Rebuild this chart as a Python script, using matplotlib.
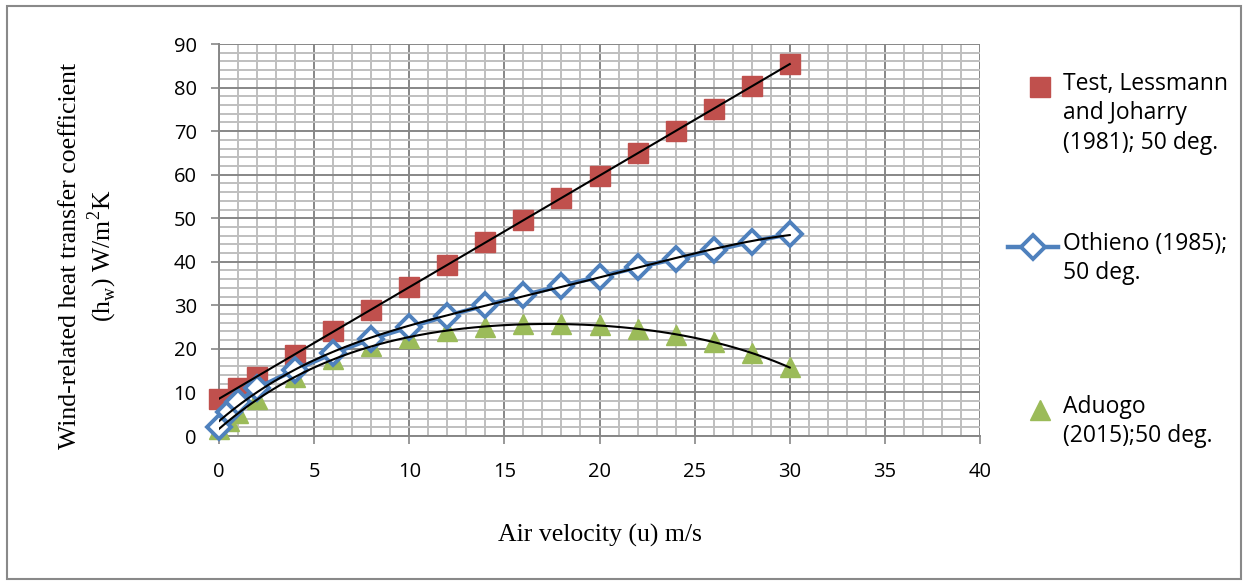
import numpy as np
import matplotlib
matplotlib.use("Agg")
import matplotlib.pyplot as plt
from matplotlib.lines import Line2D
from matplotlib.patches import Rectangle
from matplotlib.ticker import MultipleLocator

# Test, Lessmann and Joharry (1981)
u_test = [0, 1, 2, 4, 6, 8, 10, 12, 14, 16, 18, 20, 22, 24, 26, 28, 30]
h_test = [8.6, 11.1, 13.6, 18.7, 24.0, 29.0, 34.3, 39.3, 44.5, 49.5, 54.6, 59.8, 64.9, 70.0, 75.1, 80.3, 85.4]

# Othieno (1985)
u_oth = [0, 0.5, 1, 2, 4, 6, 8, 10, 12, 14, 16, 18, 20, 22, 24, 26, 28, 30]
h_oth = [2.0, 5.5, 7.8, 11.0, 15.2, 19.0, 22.3, 25.0, 27.6, 30.0, 32.3, 34.5, 36.6, 38.7, 40.7, 42.6, 44.6, 46.4]

# Aduogo (2015)
u_adu = [0, 0.5, 1, 2, 4, 6, 8, 10, 12, 14, 16, 18, 20, 22, 24, 26, 28, 30]
h_adu = [1.5, 3.5, 5.2, 8.5, 13.6, 17.6, 20.6, 22.6, 24.1, 25.1, 25.7, 25.8, 25.5, 24.6, 23.3, 21.5, 19.0, 15.8]

labels = ["Test, Lessmann\nand Joharry\n(1981); 50 deg.",
          "Othieno (1985);\n50 deg.",
          "Aduogo\n(2015);50 deg."]

RED = "#C0504D"
BLUE = "#4F81BD"
GREEN = "#9BBB59"
GRID_MAJ = "#878787"
GRID_MIN = "#BFBFBF"

plt.rcParams["font.family"] = "Open Sans"

fig = plt.figure(figsize=(12.44, 5.82), dpi=100)
ax = fig.add_axes([219/1244, 1-436/582, (980-219)/1244, (436-44)/582])

ax.set_xlim(0, 40)
ax.set_ylim(0, 90)
ax.xaxis.set_major_locator(MultipleLocator(5))
ax.xaxis.set_minor_locator(MultipleLocator(1))
ax.yaxis.set_major_locator(MultipleLocator(10))
ax.yaxis.set_minor_locator(MultipleLocator(2))
ax.grid(which="minor", color=GRID_MIN, lw=1.4)
ax.grid(which="major", color=GRID_MAJ, lw=1.4)
ax.set_axisbelow(True)
for s in ["top", "right"]:
    ax.spines[s].set_visible(False)
for s in ["left", "bottom"]:
    ax.spines[s].set_color(GRID_MAJ)
    ax.spines[s].set_linewidth(1.4)
ax.tick_params(which="major", direction="out", length=6, width=1.2, color=GRID_MAJ,
               labelsize=14.5)
ax.tick_params(axis="x", which="major", pad=13)
ax.tick_params(axis="y", which="major", pad=10)
ax.tick_params(which="minor", length=0)

# data
ax.plot(u_test, h_test, "s", color=RED, ms=14, mec=RED, zorder=3, clip_on=False)
ax.plot(u_oth, h_oth, "-D", color=BLUE, lw=3.2, ms=12, mfc="white", mec=BLUE, mew=2.8,
        zorder=4, clip_on=False)
ax.plot(u_adu, h_adu, "^", color=GREEN, ms=15, mec=GREEN, zorder=3, clip_on=False)

# trendlines
xs = np.linspace(0, 30, 300)
ax.plot(xs, np.polyval(np.polyfit(u_test, h_test, 1), xs), color="black", lw=1.5, zorder=5)
ax.plot(xs, np.polyval(np.polyfit(u_oth, h_oth, 4), xs), color="black", lw=1.5, zorder=5)
ax.plot(xs, np.polyval(np.polyfit(u_adu, h_adu, 4), xs), color="black", lw=1.5, zorder=5)

ax.set_xlabel("Air velocity (u) m/s", fontfamily="Liberation Serif", fontsize=18.5, labelpad=30)
fig.text(89/1244, 1-256/582, "Wind-related heat transfer coefficient\n(h$_\\mathregular{w}$) W/m$^\\mathregular{2}$K",
         rotation=90, ha="center", va="center", fontfamily="Liberation Serif", fontsize=18.5,
         linespacing=1.2)

# legend, drawn by hand to mimic the layout
def fx(px):
    return px / 1244
def fy(py):
    return 1 - py / 582

fig.add_artist(Line2D([fx(1040)], [fy(87)], marker="s", ms=14, color=RED, ls="none"))
fig.add_artist(Line2D([fx(1008), fx(1058)], [fy(247), fy(247)], color=BLUE, lw=3.2))
fig.add_artist(Line2D([fx(1033)], [fy(247)], marker="D", ms=12, mfc="white", mec=BLUE,
                      mew=2.8, ls="none"))
fig.add_artist(Line2D([fx(1040)], [fy(410)], marker="^", ms=15, color=GREEN, ls="none"))
for py, lab in zip([87, 247, 410], labels):
    fig.text(fx(1063), fy(py - 15), lab, ha="left", va="top", fontsize=16.5,
             linespacing=1.3)

fig.add_artist(Rectangle((7/1244, 1-579/582), 1234/1244, 573/582, transform=fig.transFigure,
                         fill=False, ec="#898989", lw=1.5))

fig.savefig("out.png", dpi=100)
